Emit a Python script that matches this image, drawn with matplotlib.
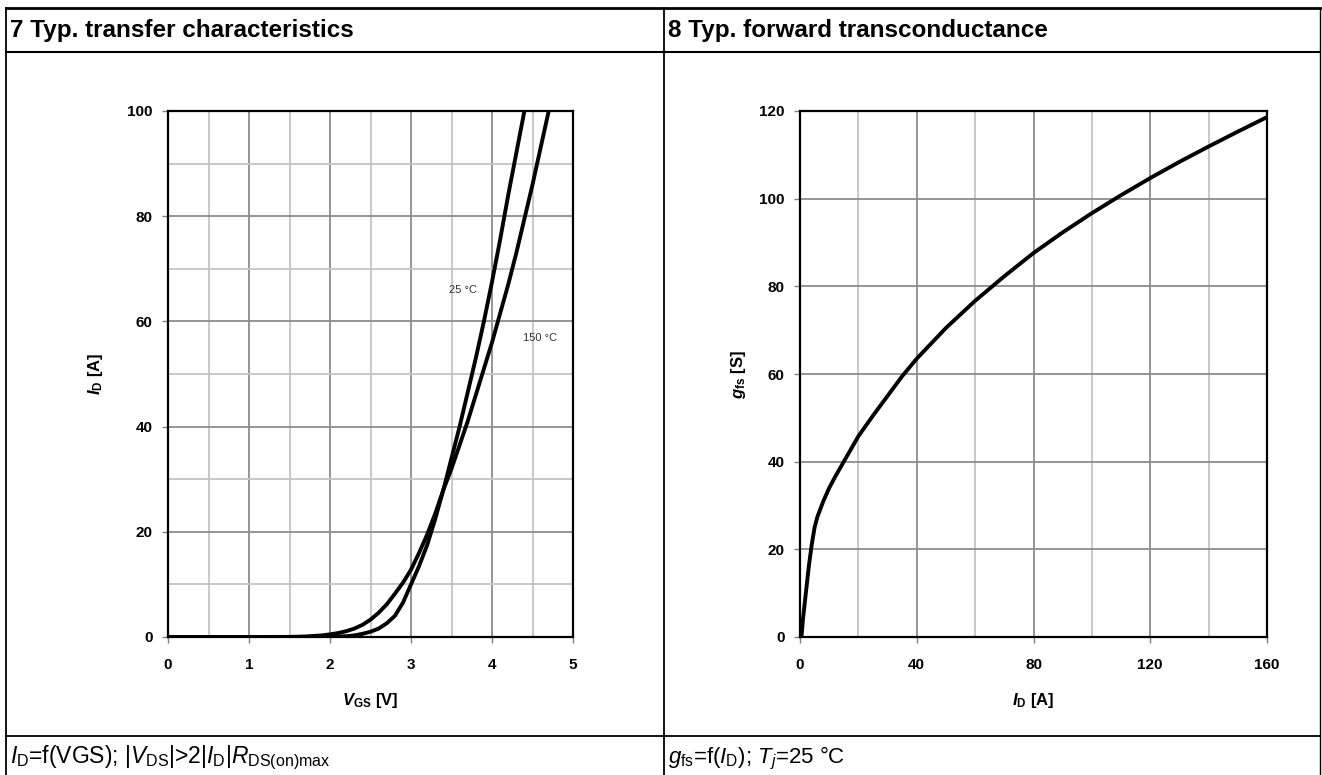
import matplotlib
matplotlib.use('Agg')
import matplotlib.pyplot as plt
from matplotlib.lines import Line2D

plt.rcParams['font.family'] = ['Liberation Sans', 'DejaVu Sans']
plt.rcParams['mathtext.fontset'] = 'custom'
plt.rcParams['mathtext.rm'] = 'Liberation Sans'
plt.rcParams['mathtext.it'] = 'Liberation Sans:italic'
plt.rcParams['mathtext.bf'] = 'Liberation Sans:bold'
plt.rcParams['mathtext.bfit'] = 'Liberation Sans:italic:bold'

# 7: transfer characteristics, I_D vs V_GS
vgs_25 = [0, 1.0, 1.5, 1.8, 2.0, 2.2, 2.3, 2.4, 2.5, 2.6, 2.7, 2.8, 2.9, 3.0, 3.1, 3.2,
          3.3, 3.4, 3.5, 3.6, 3.7, 3.8, 3.9, 4.0, 4.1, 4.2, 4.3, 4.4]
id_25 = [0, 0, 0, 0.01, 0.05, 0.15, 0.3, 0.6, 1.0, 1.6, 2.6, 4.0, 6.5, 10, 13.5, 17.5,
         22.5, 28, 34, 40, 46.5, 53, 60, 67.5, 75.5, 84, 92, 100]
vgs_150 = [0, 1.0, 1.5, 1.7, 1.9, 2.0, 2.1, 2.2, 2.3, 2.4, 2.5, 2.6, 2.7, 2.8, 2.9, 3.0,
           3.1, 3.2, 3.3, 3.4, 3.5, 3.6, 3.7, 3.8, 3.9, 4.0, 4.1, 4.2, 4.3, 4.4, 4.5,
           4.6, 4.7]
id_150 = [0, 0, 0.02, 0.1, 0.3, 0.5, 0.75, 1.1, 1.6, 2.3, 3.3, 4.6, 6.2, 8.2, 10.3, 12.8,
          16, 19.5, 23.5, 28, 32, 36.5, 41, 46, 51, 56, 61.5, 67, 73, 79.5, 86,
          93, 100]

# 8: forward transconductance, g_fs vs I_D
id_gfs = [0.5, 1, 2, 3, 4, 5, 6, 8, 10, 12, 15, 20, 25, 30, 35, 40, 50, 60, 70, 80,
          90, 100, 110, 120, 130, 140, 150, 160]
gfs = [0, 4, 10, 16, 21, 25, 27.5, 31, 34, 36.5, 40, 45.8, 50.5, 55, 59.5, 63.5, 70.5,
       76.7, 82.3, 87.6, 92.3, 96.7, 100.8, 104.7, 108.4, 111.9, 115.3, 118.6]

fig = plt.figure(figsize=(13.22, 7.75), dpi=100)


# table frame, given in pixels from the top left
def fline(x0, y0, x1, y1, lw=1.3):
    fig.add_artist(Line2D([x0 / 1322, x1 / 1322], [1 - y0 / 775, 1 - y1 / 775],
                          color='black', lw=lw))


fline(6, 8, 1320, 8, 2)
fline(6, 52, 1320, 52, 1.5)
fline(6, 736, 1320, 736)
fline(6, 8, 6, 775)
fline(664, 8, 664, 775)
fline(1320, 8, 1320, 775, 1.0)

fig.text(10 / 1322, 1 - 30 / 775, '7 Typ. transfer characteristics',
         fontsize=17.5, fontweight='bold', va='center', ha='left')
fig.text(668 / 1322, 1 - 30 / 775, '8 Typ. forward transconductance',
         fontsize=17.5, fontweight='bold', va='center', ha='left')
fig.text(10 / 1322, 1 - 758 / 775,
         r'$I_\mathrm{D}$=f(VGS); |$V_\mathrm{DS}$|>2|$I_\mathrm{D}$|$R_\mathrm{DS(on)max}$',
         fontsize=16.5, va='center', ha='left')
fig.text(668 / 1322, 1 - 758 / 775,
         r'$g_\mathrm{fs}$=f($I_\mathrm{D}$); $T_j$=25 °C',
         fontsize=16, va='center', ha='left')


def style(ax):
    ax.grid(which='major', color='#8c8c8c', lw=1.3)
    ax.grid(which='minor', color='#c4c4c4', lw=1.3)
    ax.set_axisbelow(True)
    for s in ax.spines.values():
        s.set_linewidth(1.6)
    ax.tick_params(which='major', direction='out', length=4, width=1, color='#808080',
                   labelsize=11)
    ax.tick_params(axis='x', pad=11)
    ax.tick_params(axis='y', pad=7)
    ax.tick_params(which='minor', length=0)
    for lab in ax.get_xticklabels() + ax.get_yticklabels():
        lab.set_fontweight('bold')


ax1 = fig.add_axes([168 / 1322, 1 - 637 / 775, 405 / 1322, 526 / 775])
ax1.plot(vgs_25, id_25, color='black', lw=2.8)
ax1.plot(vgs_150, id_150, color='black', lw=2.8)
ax1.set_xlim(0, 5)
ax1.set_ylim(0, 100)
ax1.set_xticks([0, 1, 2, 3, 4, 5])
ax1.set_xticks([0.5, 1.5, 2.5, 3.5, 4.5], minor=True)
ax1.set_yticks([0, 20, 40, 60, 80, 100])
ax1.set_yticks([10, 30, 50, 70, 90], minor=True)
style(ax1)
ax1.set_xlabel(r'$\mathbfit{V}_\mathbf{GS}$ [V]', fontsize=12, fontweight='bold', labelpad=14)
ax1.set_ylabel(r'$\mathbfit{I}_\mathbf{D}$ [A]', fontsize=12, fontweight='bold', labelpad=16)
ax1.text(3.64, 66, '25 °C', fontsize=8, color='#333333', ha='center', va='center')
ax1.text(4.59, 56.8, '150 °C', fontsize=8, color='#333333', ha='center', va='center')

ax2 = fig.add_axes([800 / 1322, 1 - 637 / 775, 467 / 1322, 526 / 775])
ax2.plot(id_gfs, gfs, color='black', lw=2.8)
ax2.set_xlim(0, 160)
ax2.set_ylim(0, 120)
ax2.set_xticks([0, 40, 80, 120, 160])
ax2.set_xticks([20, 60, 100, 140], minor=True)
ax2.set_yticks([0, 20, 40, 60, 80, 100, 120])
style(ax2)
ax2.set_xlabel(r'$\mathbfit{I}_\mathbf{D}$ [A]', fontsize=12, fontweight='bold', labelpad=14)
ax2.set_ylabel(r'$\mathbfit{g}_\mathbf{fs}$ [S]', fontsize=12, fontweight='bold', labelpad=8)

fig.savefig('out.png', dpi=100)
